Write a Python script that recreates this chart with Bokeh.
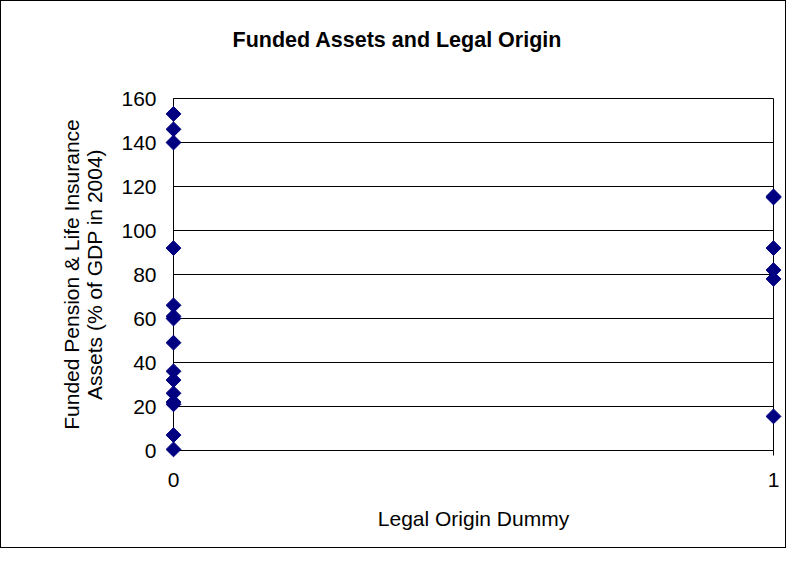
import numpy as np
from bokeh.plotting import figure
from bokeh.models import ColumnDataSource, FixedTicker, Range1d
from bokeh.embed import file_html
from bokeh.resources import INLINE

# Data
legal_origin_0 = [153, 146, 140, 92, 66, 61, 60, 49, 36, 32, 26, 22, 21, 7, 0.5]
legal_origin_1 = [115.5, 115, 92, 82, 78, 15.5]
y_ticks = [0, 20, 40, 60, 80, 100, 120, 140, 160]
x_ticks = [0, 1]
title_text = "Funded Assets and Legal Origin"

xs = [0] * len(legal_origin_0) + [1] * len(legal_origin_1)
ys = legal_origin_0 + legal_origin_1
src = ColumnDataSource(dict(x=xs, y=ys))

FONT = "Liberation Sans"

p = figure(width=786, height=548, output_backend="svg", toolbar_location=None,
           x_range=Range1d(0, 1), y_range=Range1d(0, 160),
           min_border_left=172, min_border_right=14, min_border_top=97, min_border_bottom=99,
           styles={"border": "1px solid black"})

# second (blank) line lifts the title well above the plot frame
p.title.text = title_text + "\n\u00a0"
p.title.text_font = FONT
p.title.text_font_size = "21.5px"
p.title.text_font_style = "bold"
p.title.text_color = "black"
p.title.text_line_height = 1.6
p.title.align = "left"
p.title.offset = 59
p.title.standoff = 16

p.outline_line_color = "black"
p.outline_line_width = 1

p.xgrid.grid_line_color = None
p.ygrid.grid_line_color = "black"
p.ygrid.grid_line_width = 1

p.yaxis.ticker = FixedTicker(ticks=y_ticks)
p.xaxis.ticker = FixedTicker(ticks=x_ticks)
p.xaxis.minor_tick_line_color = None
p.yaxis.minor_tick_line_color = None

for ax in (p.xaxis, p.yaxis):
    ax.axis_line_color = "black"
    ax.major_label_text_font = FONT
    ax.major_label_text_font_size = "21px"
    ax.major_label_text_color = "black"
    ax.axis_label_text_font = FONT
    ax.axis_label_text_font_size = "21px"
    ax.axis_label_text_font_style = "normal"
    ax.axis_label_text_color = "black"

p.yaxis.major_tick_out = 0
p.yaxis.major_tick_in = 0
p.yaxis.major_label_standoff = 17
p.yaxis.axis_label = "Funded Pension & Life Insurance\nAssets (% of GDP in 2004)"
p.yaxis.axis_label_text_line_height = 1.0
p.yaxis.axis_label_standoff = 12

p.xaxis.major_tick_out = 5
p.xaxis.major_tick_in = 0
p.xaxis.major_tick_line_color = "black"
p.xaxis.major_label_standoff = 17
p.xaxis.axis_label = "Legal Origin Dummy"
p.xaxis.axis_label_standoff = 17

p.scatter("x", "y", source=src, marker="square", angle=np.pi / 4, size=10.5,
          fill_color="#000080", line_color="#000080", level="overlay")

open("out.html", "w").write(file_html(p, INLINE))
